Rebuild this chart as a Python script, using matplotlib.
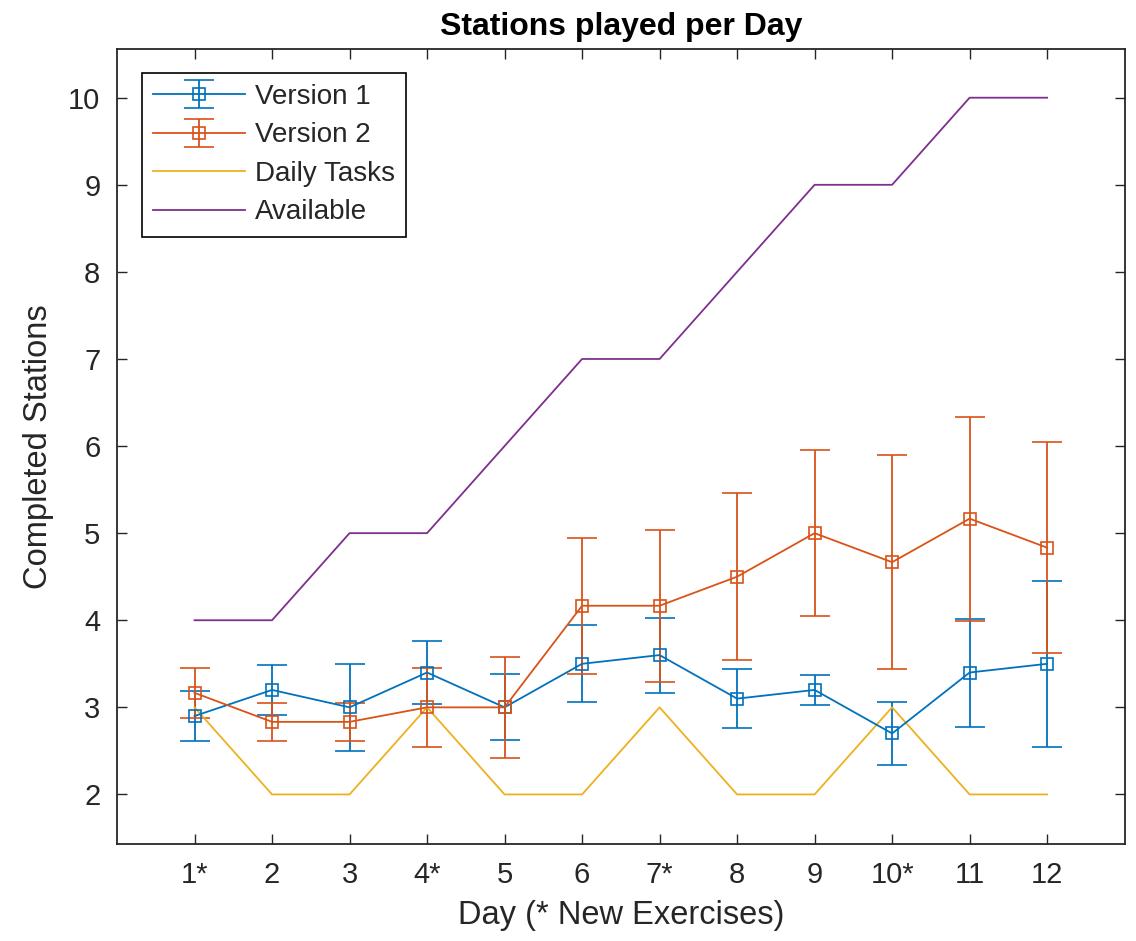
import matplotlib.pyplot as plt

days = [1, 2, 3, 4, 5, 6, 7, 8, 9, 10, 11, 12]
day_labels = ['1*', '2', '3', '4*', '5', '6', '7*', '8', '9', '10*', '11', '12']

v1_mean = [2.9, 3.2, 3.0, 3.4, 3.0, 3.5, 3.6, 3.1, 3.2, 2.7, 3.4, 3.5]
v1_err = [0.29, 0.29, 0.50, 0.36, 0.38, 0.44, 0.43, 0.34, 0.17, 0.36, 0.62, 0.95]

v2_mean = [3.1667, 2.8333, 2.8333, 3.0, 3.0, 4.1667, 4.1667, 4.5, 5.0, 4.6667, 5.1667, 4.8333]
v2_err = [0.29, 0.22, 0.22, 0.45, 0.58, 0.78, 0.87, 0.96, 0.95, 1.23, 1.17, 1.21]

daily_tasks = [3, 2, 2, 3, 2, 2, 3, 2, 2, 3, 2, 2]
available = [4, 4, 5, 5, 6, 7, 7, 8, 9, 9, 10, 10]

# matlab default colour order
c_blue = '#0072BD'
c_orange = '#D95319'
c_yellow = '#EDB120'
c_purple = '#7E2F8E'

plt.rcParams['font.family'] = ['Liberation Sans', 'DejaVu Sans']
text_col = '#262626'

fig = plt.figure(figsize=(11.36, 9.41), dpi=100)
ax = fig.add_axes([0.103, 0.103, 0.887, 0.845])

h1 = ax.errorbar(days, v1_mean, yerr=v1_err, color=c_blue, marker='s', markersize=9,
                 markerfacecolor='none', markeredgewidth=1.2, linewidth=1.3,
                 capsize=11, capthick=1.3, elinewidth=1.3, label='Version 1')
h2 = ax.errorbar(days, v2_mean, yerr=v2_err, color=c_orange, marker='s', markersize=9,
                 markerfacecolor='none', markeredgewidth=1.2, linewidth=1.3,
                 capsize=11, capthick=1.3, elinewidth=1.3, label='Version 2')
h3, = ax.plot(days, daily_tasks, color=c_yellow, linewidth=1.3, label='Daily Tasks')
h4, = ax.plot(days, available, color=c_purple, linewidth=1.3, label='Available')

ax.set_xlim(0, 13)
ax.set_ylim(1.43, 10.56)
ax.set_xticks(days)
ax.set_xticklabels(day_labels)
ax.set_yticks(range(2, 11))

ax.tick_params(direction='in', length=7, width=1, top=True, right=True,
               labelsize=21, colors=text_col, pad=12)
for side in ax.spines.values():
    side.set_linewidth(1.3)
    side.set_color(text_col)

ax.set_xlabel('Day (* New Exercises)', fontsize=23.5, color=text_col, labelpad=8)
ax.set_ylabel('Completed Stations', fontsize=23.5, color=text_col, labelpad=10)
ax.set_title('Stations played per Day', fontsize=23, fontweight='bold', pad=10)

leg = ax.legend([h1, h2, h3, h4], ['Version 1', 'Version 2', 'Daily Tasks', 'Available'],
                loc='upper left', bbox_to_anchor=(0.025, 0.97), borderaxespad=0,
                fontsize=20, handlelength=3.3, handletextpad=0.35,
                labelspacing=0.45, borderpad=0.4, fancybox=False, framealpha=1)
leg.get_frame().set_edgecolor('black')
leg.get_frame().set_linewidth(1.2)
for t in leg.get_texts():
    t.set_color(text_col)

fig.savefig('out.png', dpi=100)
